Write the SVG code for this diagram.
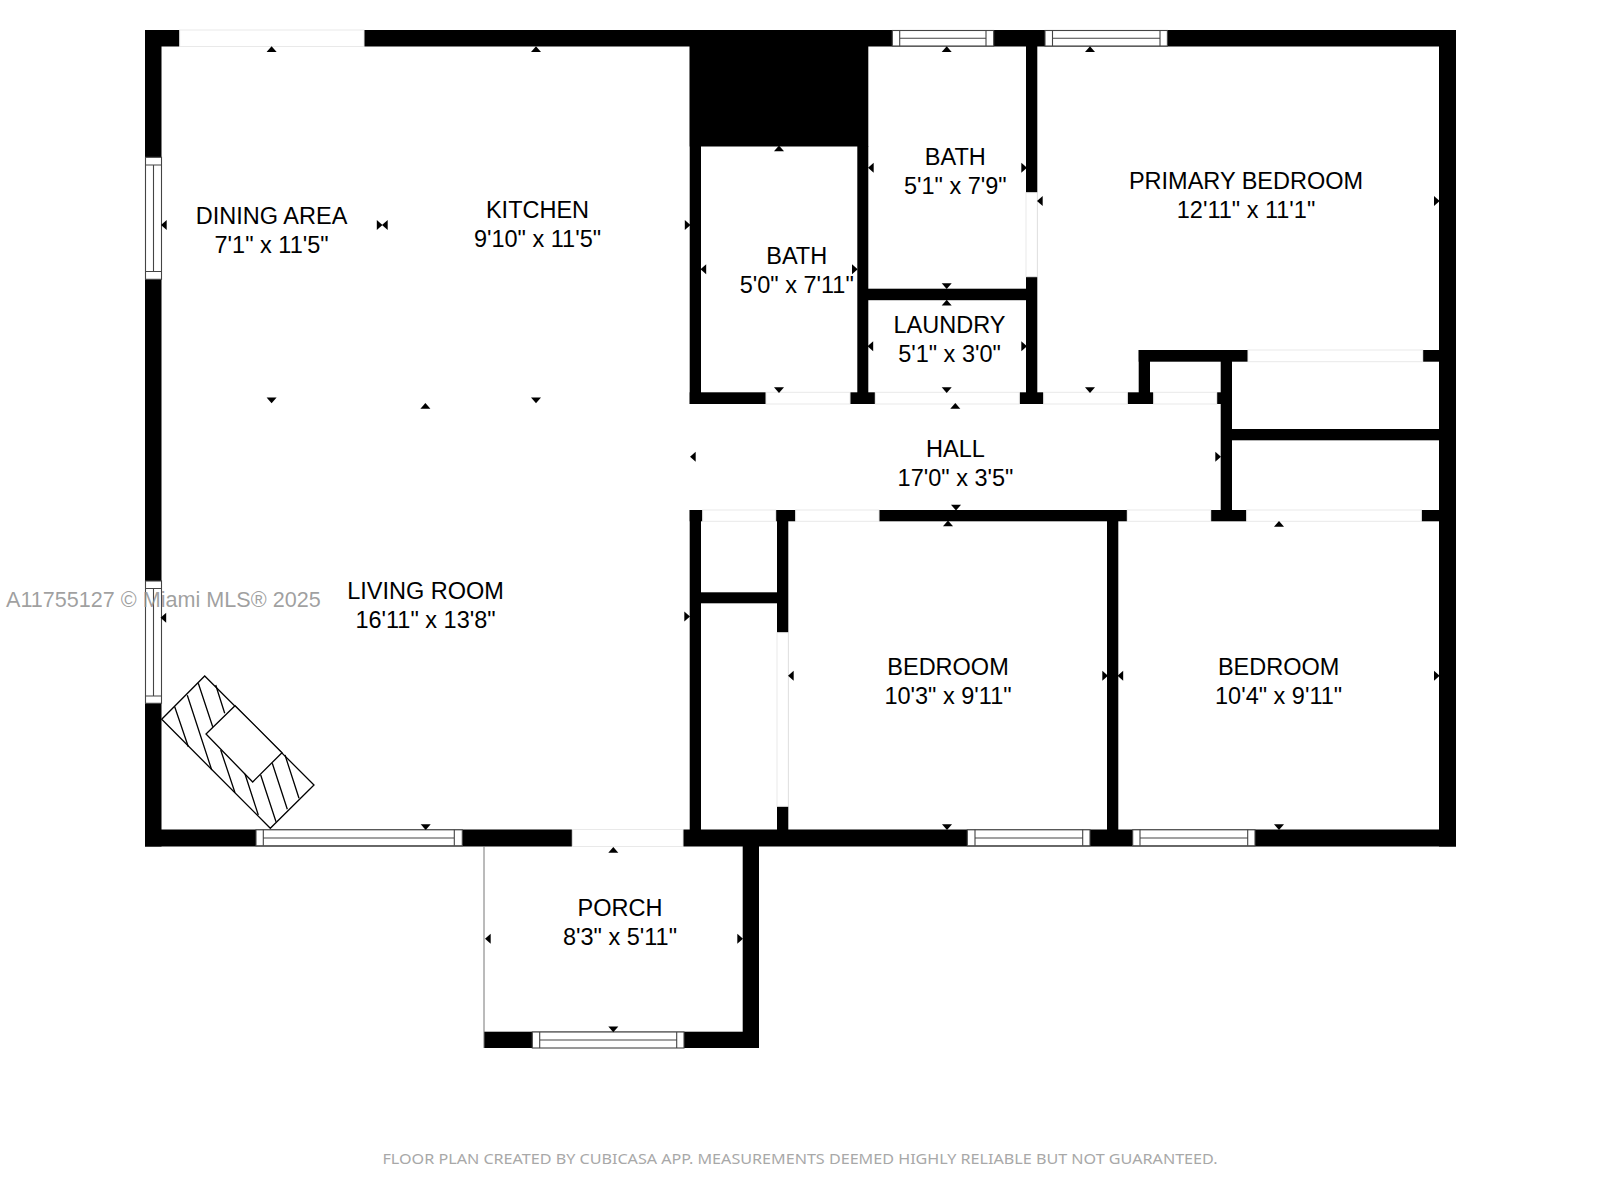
<svg xmlns="http://www.w3.org/2000/svg" xmlns:xlink="http://www.w3.org/1999/xlink" width="1600" height="1200" viewBox="0 0 1600 1200">
<style>
.wall{fill:#000}
.door{fill:#fff;stroke:#e9e9e9;stroke-width:1}
.win{fill:#fff;stroke:#444;stroke-width:1.1}
.thin{fill:none;stroke:#444;stroke-width:1.1}
.fp{fill:none;stroke:#000;stroke-width:1.3}
text{font-family:"Liberation Sans",Arial,sans-serif;fill:#000}
.lbl{font-size:23.5px;text-anchor:middle}
.wm{font-size:21.6px;fill:#8f8f8f;fill-opacity:.85}
.foot{font-family:"Noto Sans","Liberation Sans",sans-serif;font-size:14.6px;fill:#a8a8a8;text-anchor:middle}
</style>
<defs>
<path id="u" d="M-5 2.7L0-3 5 2.7Z"/>
<path id="d" d="M-5-2.7L0 3 5-2.7Z"/>
<path id="l" d="M2.7-5L-3 0 2.7 5Z"/>
<path id="r" d="M-2.7-5L3 0-2.7 5Z"/>
</defs>
<rect width="1600" height="1200" fill="#fff"/>
<g id="walls" class="wall">
<rect x="145" y="30" width="1311" height="16.5"/>
<rect x="145" y="30" width="16.5" height="816.5"/>
<rect x="1439" y="30" width="17" height="816.5"/>
<rect x="145" y="829.5" width="1311" height="17"/>
<rect x="689.7" y="46" width="178.6" height="100.5"/>
<rect x="689.7" y="46" width="11.3" height="358"/>
<rect x="857.3" y="146" width="11" height="258"/>
<rect x="1026" y="46" width="11.3" height="358"/>
<rect x="868" y="288.7" width="158" height="11.5"/>
<rect x="689.7" y="392.3" width="76.3" height="11.7"/>
<rect x="850" y="392.3" width="25.3" height="11.7"/>
<rect x="1019.3" y="392.3" width="24.4" height="11.7"/>
<rect x="1127.3" y="392.3" width="26.4" height="11.7"/>
<rect x="1216.7" y="392.3" width="5" height="11.7"/>
<rect x="1138.7" y="350" width="11.3" height="43"/>
<rect x="1138.7" y="350" width="109.3" height="11.7"/>
<rect x="1422.7" y="350" width="17" height="11.7"/>
<rect x="1220.7" y="350" width="11.3" height="171"/>
<rect x="1232" y="429" width="207" height="11.3"/>
<rect x="689.7" y="510" width="13" height="11.3"/>
<rect x="775.7" y="510" width="20" height="11.3"/>
<rect x="879" y="510" width="248.3" height="11.3"/>
<rect x="1210.7" y="510" width="36" height="11.3"/>
<rect x="1421.3" y="510" width="18" height="11.3"/>
<rect x="1107" y="510" width="11.3" height="320"/>
<rect x="689.7" y="510" width="11.3" height="320"/>
<rect x="701" y="592.3" width="77" height="11"/>
<rect x="777" y="510" width="11.3" height="320"/>
<rect x="742.7" y="846" width="16.3" height="202"/>
<rect x="484" y="1031.7" width="275" height="16.3"/>
</g>
<g id="openings">
<rect class="door" x="179.7" y="30" width="184.3" height="16.5"/>
<rect class="door" x="572.3" y="829.5" width="110.7" height="17"/>
<rect class="door" x="766" y="392.3" width="84" height="11.7"/>
<rect class="door" x="875.3" y="392.3" width="144" height="11.7"/>
<rect class="door" x="1043.7" y="392.3" width="83.6" height="11.7"/>
<rect class="door" x="1153.7" y="392.3" width="63" height="11.7"/>
<rect class="door" x="1248" y="350" width="174.7" height="11.7"/>
<rect class="door" x="702.7" y="510" width="73" height="11.3"/>
<rect class="door" x="795.7" y="510" width="83.3" height="11.3"/>
<rect class="door" x="1127.3" y="510" width="83.4" height="11.3"/>
<rect class="door" x="1246.7" y="510" width="174.6" height="11.3"/>
<rect class="door" x="1026" y="192.7" width="11.3" height="84"/>
<rect class="door" x="777" y="632.7" width="11.3" height="173.6"/>
</g>
<g id="windows">
<g id="win-top-1"><rect class="win" x="892.3" y="30.5" width="101.4" height="15.5"/><path class="thin" d="M899.7 30.5V46M986 30.5V46M899.7 38.2H986"/></g>
<g id="win-top-2"><rect class="win" x="1045" y="30.5" width="122.4" height="15.5"/><path class="thin" d="M1052.5 30.5V46M1160 30.5V46M1052.5 38.2H1160"/></g>
<g id="win-left-1"><rect class="win" x="145.5" y="157.3" width="16" height="122"/><path class="thin" d="M145.5 165H161.5M145.5 271.5H161.5M153.5 165V271.5"/></g>
<g id="win-left-2"><rect class="win" x="145.5" y="581" width="16" height="122.3"/><path class="thin" d="M145.5 588.5H161.5M145.5 696H161.5M153.5 588.5V696"/></g>
<g id="win-bot-1"><rect class="win" x="256" y="829.8" width="206.3" height="16"/><path class="thin" d="M263.3 829.8V845.8M454.3 829.8V845.8M263.3 838H454.3"/></g>
<g id="win-bot-2"><rect class="win" x="967.3" y="829.8" width="122.7" height="16"/><path class="thin" d="M975 829.8V845.8M1082.7 829.8V845.8M975 838H1082.7"/></g>
<g id="win-bot-3"><rect class="win" x="1132.7" y="829.8" width="122.3" height="16"/><path class="thin" d="M1140 829.8V845.8M1247.7 829.8V845.8M1140 838H1247.7"/></g>
<g id="win-porch"><rect class="win" x="532.3" y="1032" width="151.7" height="16"/><path class="thin" d="M539.7 1032V1048M676.7 1032V1048M539.7 1040H676.7"/></g>
<path id="porch-edge" d="M484 846V1048" fill="none" stroke="#777" stroke-width="1"/>
</g>
<g id="fireplace" class="fp">
<path d="M161.7 719.3L204.7 676 314 785 270.3 828.3Z"/>
<path d="M235 705.7L206 734 252.7 782 282 752.7Z" fill="#fff"/>
<path d="M174.7 706.7L188.3 746.7M187.3 695.3L211.7 770M198.3 683.3L212.7 726.7M215.7 685L224.7 713.3M220.7 750L235 792.7M245 774L258.3 815M260.7 775L276 821.7M272.3 763.3L287.3 809.3M285 755L299 798.3"/>
</g>
<g id="ticks">
<use href="#u" x="271.6" y="49.3"/><use href="#u" x="536" y="49.3"/><use href="#l" x="164" y="225"/><use href="#r" x="379.5" y="225"/><use href="#l" x="385" y="225"/><use href="#r" x="687.5" y="225"/><use href="#l" x="703.5" y="269.3"/><use href="#d" x="271.6" y="400.3"/><use href="#d" x="536" y="400.3"/><use href="#u" x="425.4" y="406"/>
<use href="#u" x="946.7" y="49.3"/><use href="#u" x="779" y="148.5"/><use href="#l" x="871" y="167.7"/><use href="#r" x="1024" y="167.7"/><use href="#l" x="1040" y="201"/><use href="#r" x="854.7" y="269.3"/><use href="#d" x="946.7" y="286"/><use href="#u" x="946.7" y="302.7"/><use href="#l" x="870.5" y="346.3"/><use href="#r" x="1024" y="346.3"/><use href="#d" x="779" y="390"/><use href="#d" x="946.7" y="390"/><use href="#u" x="955.3" y="406"/>
<use href="#u" x="1090" y="49.3"/><use href="#r" x="1436.7" y="201"/><use href="#d" x="1090" y="390"/><use href="#r" x="1218" y="456.7"/><use href="#l" x="693" y="456.7"/><use href="#d" x="956" y="507.5"/><use href="#u" x="948" y="523.5"/><use href="#u" x="1279" y="524"/><use href="#l" x="791" y="675.7"/><use href="#r" x="1105" y="675.7"/><use href="#l" x="1120.5" y="675.7"/><use href="#r" x="1436.7" y="675.7"/><use href="#d" x="947" y="827"/><use href="#d" x="1279" y="827"/><use href="#l" x="163.5" y="617.7"/><use href="#r" x="687" y="616.5"/><use href="#d" x="425.7" y="827"/><use href="#u" x="613.3" y="850"/><use href="#l" x="488" y="938.7"/><use href="#r" x="740" y="938.7"/><use href="#d" x="613.3" y="1029.3"/>
</g>
<g id="labels">
<g id="room-dining"><text class="lbl" x="271.6" y="224">DINING AREA</text><text class="lbl" x="271.6" y="253">7'1" x 11'5"</text></g>
<g id="room-kitchen"><text class="lbl" x="537.5" y="218">KITCHEN</text><text class="lbl" x="537.5" y="246.5">9'10" x 11'5"</text></g>
<g id="room-bath-1"><text class="lbl" x="955.3" y="165">BATH</text><text class="lbl" x="955.3" y="193.5">5'1" x 7'9"</text></g>
<g id="room-bath-2"><text class="lbl" x="796.7" y="264">BATH</text><text class="lbl" x="796.7" y="292.7">5'0" x 7'11"</text></g>
<g id="room-laundry"><text class="lbl" x="949.5" y="333.3">LAUNDRY</text><text class="lbl" x="949.5" y="361.7">5'1" x 3'0"</text></g>
<g id="room-primary"><text class="lbl" x="1246" y="189">PRIMARY BEDROOM</text><text class="lbl" x="1246" y="217.7">12'11" x 11'1"</text></g>
<g id="room-hall"><text class="lbl" x="955.5" y="457.3">HALL</text><text class="lbl" x="955.5" y="486">17'0" x 3'5"</text></g>
<g id="room-bedroom-1"><text class="lbl" x="948" y="675">BEDROOM</text><text class="lbl" x="948" y="704.3">10'3" x 9'11"</text></g>
<g id="room-bedroom-2"><text class="lbl" x="1278.6" y="675">BEDROOM</text><text class="lbl" x="1278.6" y="704.3">10'4" x 9'11"</text></g>
<g id="room-living"><text class="lbl" x="425.5" y="599.3">LIVING ROOM</text><text class="lbl" x="425.5" y="628.3">16'11" x 13'8"</text></g>
<g id="room-porch"><text class="lbl" x="620" y="916">PORCH</text><text class="lbl" x="620" y="945">8'3" x 5'11"</text></g>
</g>
<text class="wm" x="6" y="606.7">A11755127 © Miami MLS® 2025</text>
<text class="foot" x="800" y="1164" textLength="835" lengthAdjust="spacingAndGlyphs">FLOOR PLAN CREATED BY CUBICASA APP. MEASUREMENTS DEEMED HIGHLY RELIABLE BUT NOT GUARANTEED.</text>
</svg>
